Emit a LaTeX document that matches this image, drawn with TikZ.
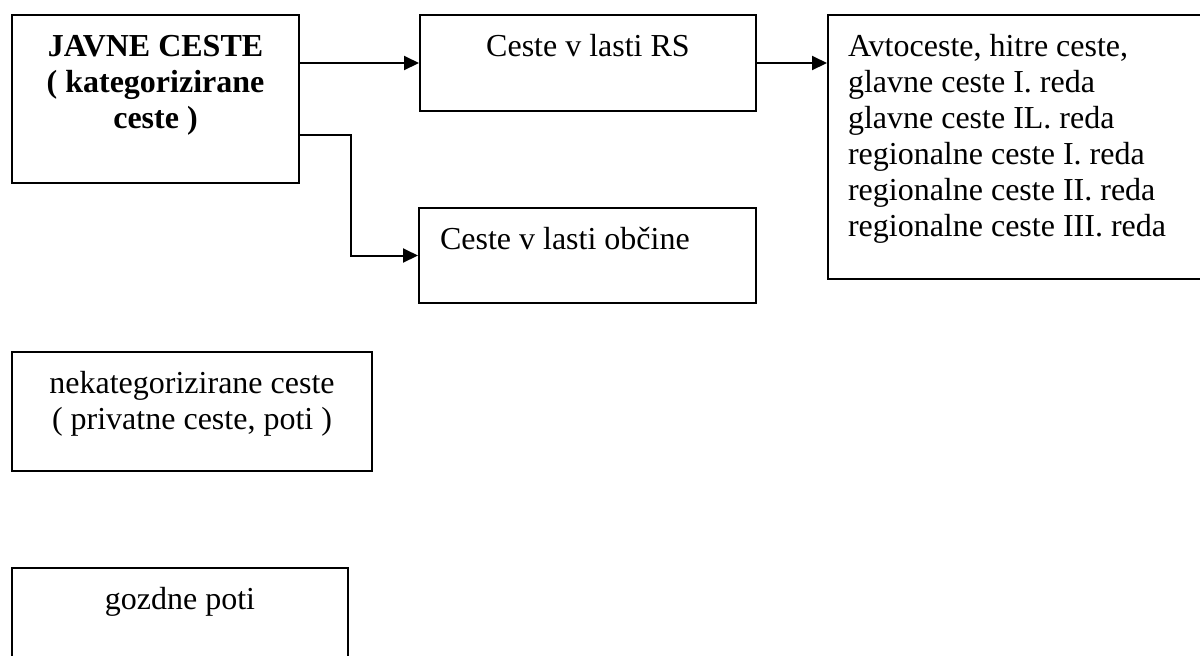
\documentclass[tikz,border=0pt]{standalone}
\usepackage{fontspec}
\setmainfont{Liberation Serif}
\usetikzlibrary{arrows.meta}
\newcommand{\boxtxt}[4]{\parbox[t][#2][t]{#1}{\fontsize{16pt}{18pt}\selectfont#3\rule{0pt}{20.5pt}#4}}
\begin{document}
\begin{tikzpicture}[x=0.5pt,y=-0.5pt,
  cbox/.style={draw=black,line width=1pt,inner sep=0pt,anchor=north west},
  lbox/.style={draw=black,line width=1pt,inner ysep=0pt,inner xsep=10.5pt,anchor=north west},
  arr/.style={line width=1pt,-{Triangle[length=7.5pt,width=7pt]}}]
\useasboundingbox (0,0) rectangle (1200,655);
\clip (0,0) rectangle (1200,655);
\fill[white] (0,0) rectangle (1200,655);
\node[cbox] (javne) at (11,14) {\boxtxt{143.5pt}{84pt}{\centering\bfseries}{JAVNE CESTE\\( kategorizirane\\ceste )}};
\node[cbox] (rs) at (419,14) {\boxtxt{168pt}{48pt}{\centering}{Ceste v lasti RS}};
\node[lbox] (obc) at (418,207) {\boxtxt{147.5pt}{47.5pt}{\raggedright}{Ceste v lasti občine}};
\node[lbox,inner xsep=10pt] (avto) at (827,14) {\boxtxt{174pt}{132pt}{\raggedright}{Avtoceste, hitre ceste,\\glavne ceste I. reda\\glavne ceste IL. reda\\regionalne ceste I. reda\\regionalne ceste II. reda\\regionalne ceste III. reda}};
\node[cbox] (nekat) at (11,351) {\boxtxt{180pt}{59.5pt}{\centering}{nekategorizirane ceste\\( privatne ceste, poti )}};
\node[cbox] (gozd) at (11,567) {\boxtxt{168pt}{48pt}{\centering}{gozdne poti}};
\coordinate (j2) at ([yshift=-18pt]javne.east);
\draw[arr] (rs.west -| javne.east) -- (rs.west);
\draw[arr] (j2) -- ++(51,0) |- (obc.west);
\draw[arr] (rs.east) -- (rs.east -| avto.west);
\end{tikzpicture}
\end{document}
